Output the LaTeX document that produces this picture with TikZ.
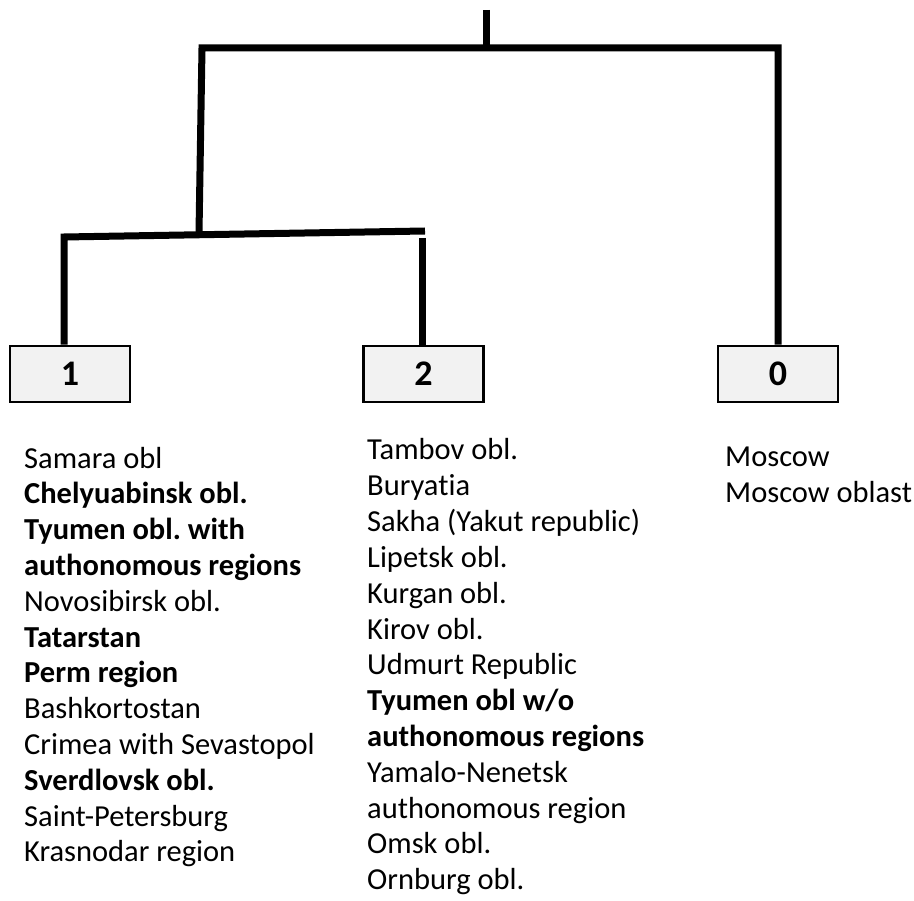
\documentclass[tikz,border=0pt]{standalone}
\usepackage{fontspec}
\setmainfont{Carlito}[Ligatures=NoCommon]
\usetikzlibrary{calc}
\frenchspacing

\tikzset{
	branch/.style={line width=7pt, line join=miter},
	cluster/.style={draw, line width=2.5pt, fill=black!5, minimum width=120, minimum height=56, inner sep=0, font=\fontsize{36}{40}\selectfont\bfseries},
	item/.style={anchor=base west, inner sep=0, font=\fontsize{30.5}{36}\selectfont}
}

\begin{document}
\begin{tikzpicture}[x=1pt,y=-1pt]
	\useasboundingbox (0,0) rectangle (914,901);
	%the three cluster boxes
	\node[cluster] (box1) at (70,374){1};
	\node[cluster] (box2) at (423.5,374){2};
	\node[cluster] (box0) at (778,374){0};
	%%joints of the tree placed by hand
	\coordinate (root) at (486,10); \coordinate (top) at (486,48);
	\coordinate (ja) at (202,48); \coordinate (jb) at (778,48);
	\coordinate (low) at (199,233);
	\coordinate (la) at (64,237); \coordinate (lb) at (425,231); \coordinate (lc) at (422,238);
	%% draw the branches
	\draw[branch] (root) -- (top);
	\draw[branch] (box0.north) -- (jb) -- (ja) -- (low);
	\draw[branch] (la |- box1.north) -- (la) -- (lb);
	\draw[branch] (lc) -- (lc |- box2.north);
	%% members of cluster 1
	\foreach \t [count=\i] in {Samara obl, \textbf{Chelyuabinsk obl.}, \textbf{Tyumen obl. with}, \textbf{authonomous regions}, Novosibirsk obl., \textbf{Tatarstan}, \textbf{Perm region}, Bashkortostan, Crimea with Sevastopol, \textbf{Sverdlovsk obl.}, Saint-Petersburg, Krasnodar region}{
		\node[item] (p\i) at (24,432.2+35.8*\i){\t};
		}
	%% members of cluster 2
	\foreach \t [count=\i] in {Tambov obl., Buryatia, Sakha (Yakut republic), Lipetsk obl., Kurgan obl., Kirov obl., Udmurt Republic, \textbf{Tyumen obl w/o}, \textbf{authonomous regions}, Yamalo-Nenetsk, authonomous region, Omsk obl., Ornburg obl.}{
		\node[item] (q\i) at (367,424.2+35.8*\i){\t};
		}
	%% members of cluster 0
	\foreach \t [count=\i] in {Moscow, Moscow oblast}{
		\node[item] (r\i) at (725,431.2+35.8*\i){\t};
		}
\end{tikzpicture}
\end{document}
